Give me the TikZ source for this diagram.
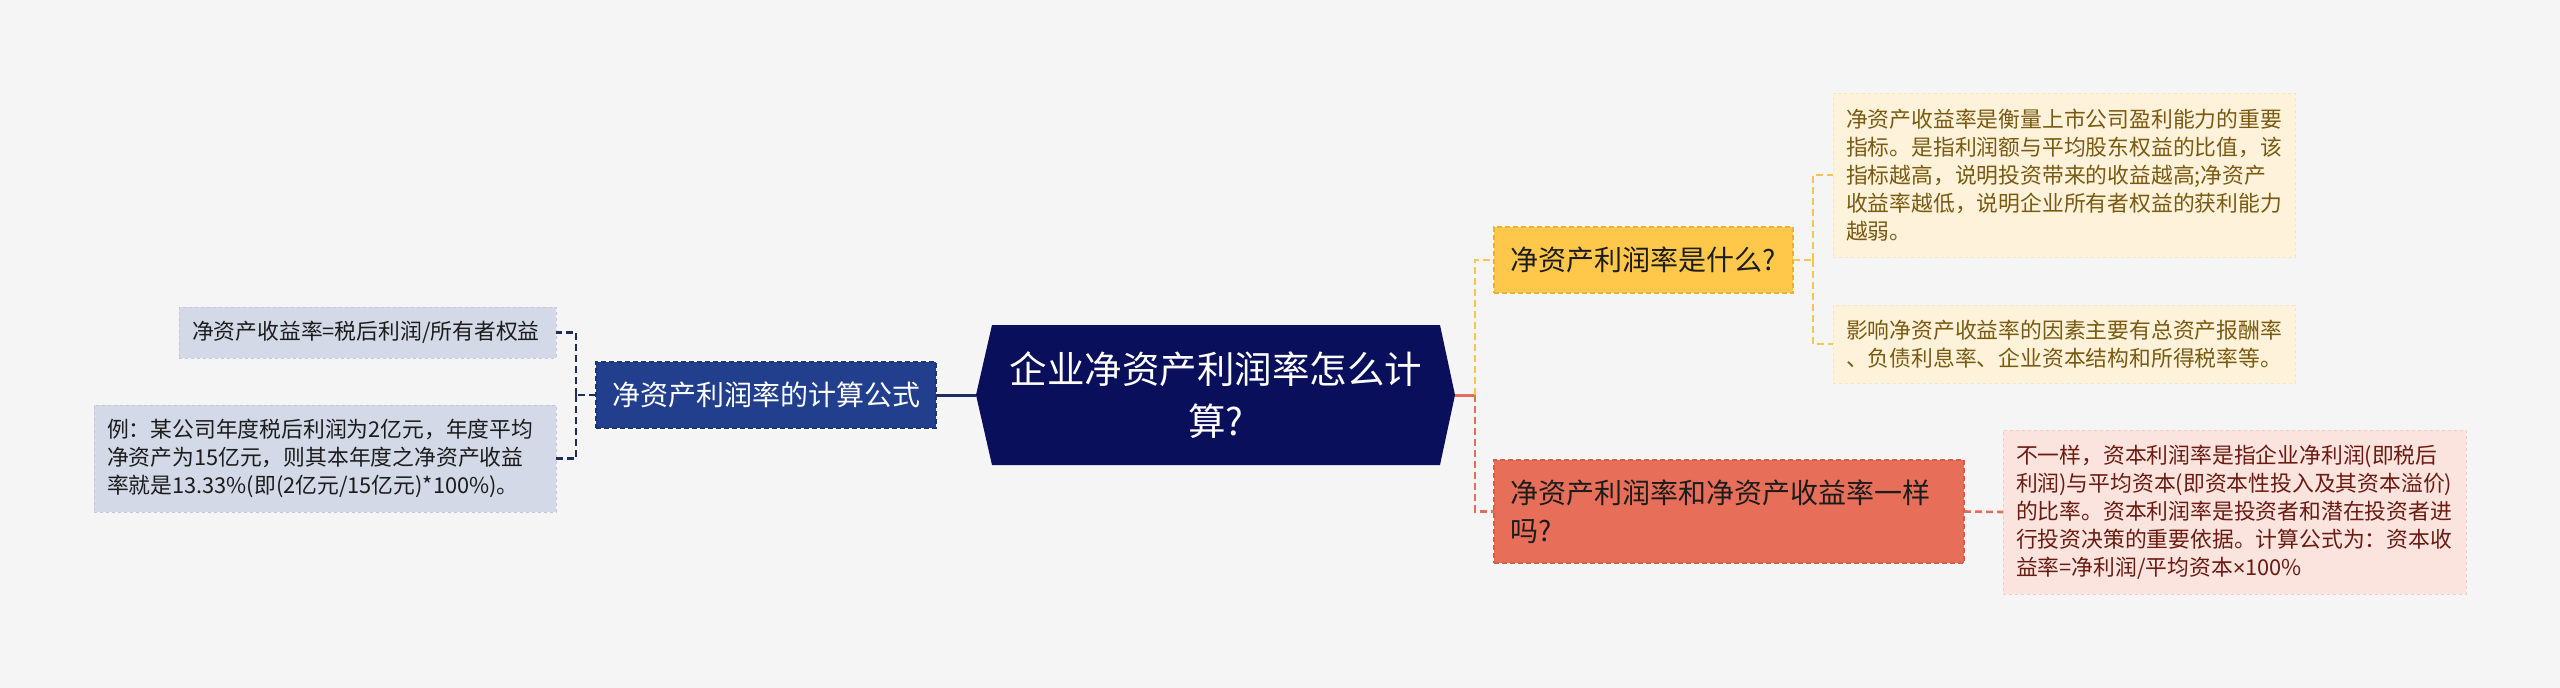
\documentclass[tikz,border=0pt]{standalone}
\usepackage{fontspec}
\setmainfont{Noto Sans CJK SC}
\newfontfamily\latinfont{Liberation Sans}
\usepackage{tikz}
\usetikzlibrary{arrows.meta, positioning, backgrounds}
\usepackage{xcolor}

\definecolor{nen}{HTML}{F5F5F5}
\definecolor{mauGoc}{HTML}{0A0F5C}
\definecolor{xanhNhanh}{HTML}{213F8C}
\definecolor{xanhVien}{HTML}{1A3675}
\definecolor{xanhDuong}{HTML}{1F2D5E}
\definecolor{xamLa}{HTML}{D4D9E8}
\definecolor{xamVien}{HTML}{C2C8DB}
\definecolor{vangNhanh}{HTML}{FFC84A}
\definecolor{vangVien}{HTML}{EDB030}
\definecolor{vangDuong}{HTML}{F6C64F}
\definecolor{vangLa}{HTML}{FEF3DA}
\definecolor{vangLaVien}{HTML}{F6E6C0}
\definecolor{chuVang}{HTML}{7A5A12}
\definecolor{doNhanh}{HTML}{E76F59}
\definecolor{doVien}{HTML}{D45E48}
\definecolor{doDuong}{HTML}{E0705A}
\definecolor{doLa}{HTML}{FBE3DE}
\definecolor{doLaVien}{HTML}{F1CDC6}
\definecolor{chuDo}{HTML}{6B1C12}
\definecolor{chuDen}{HTML}{1C1C1C}

\begin{document}
\begin{tikzpicture}[x=1pt, y=-1pt, thick,
    hop/.style={rectangle, inner ysep=0pt, outer sep=0pt},
    laDuoi/.style={hop, font=\fontsize{21.8}{28}\selectfont, align=left, inner xsep=13pt, dashed, line width=1pt},
    nhanh/.style={hop, font=\fontsize{28}{38}\selectfont, inner xsep=16pt, line width=1.2pt, dash pattern=on 5pt off 3pt},
    noiXanh/.style={draw=xanhDuong, line width=2.4pt, dash pattern=on 7pt off 4pt},
    noiVang/.style={draw=vangDuong, line width=2.6pt, dash pattern=on 7pt off 4pt},
    noiDo/.style={draw=doDuong, line width=2.6pt, dash pattern=on 7pt off 4pt}]

    % Khung và nền
    \useasboundingbox (0,0) rectangle (2560,688);
    \begin{scope}[on background layer]
        \fill[nen] (0,0) rectangle (2560,688);
    \end{scope}

    % Chủ đề trung tâm
    \node[hop, minimum width=448pt, minimum height=140pt, text=white, align=center, font=\fontsize{37.5}{52}\selectfont] (goc) at (1216,395) {企业净资产利润率怎么计\\算?};
    \coordinate (gocT) at ([xshift=-16pt]goc.west);
    \coordinate (gocP) at ([xshift=15pt]goc.east);
    \begin{scope}[on background layer]
        \fill[mauGoc] (gocT) -- (goc.north west) -- (goc.north east) -- (gocP) -- (goc.south east) -- (goc.south west) -- cycle;
    \end{scope}

    % Nhánh trái
    \node[nhanh, fill=xanhNhanh, draw=xanhVien, text=white, minimum width=340pt, minimum height=66pt] (congThuc) at (766,395) {净资产利润率的计算公式};
    \node[laDuoi, fill=xamLa, draw=xamVien, text=chuDen, text width=351pt, minimum height=51pt, anchor=east] (ctA) at (556,332.5) {净资产收益率=税后利润/所有者权益};
    \node[laDuoi, fill=xamLa, draw=xamVien, text=chuDen, text width=436pt, minimum height=107pt, anchor=east] (viDu) at (556,458.5) {例：某公司年度税后利润为2亿元，年度平均\\净资产为15亿元，则其本年度之净资产收益\\率就是13.33\%(即(2亿元/15亿元)*100\%)。};

    % Nhánh phải
    \node[nhanh, fill=vangNhanh, draw=vangVien, text=chuDen, minimum width=299pt, minimum height=66pt, anchor=west] (laGi) at (1494,260) {净资产利润率是什么?};
    \node[nhanh, fill=doNhanh, draw=doVien, text=chuDen, text width=438pt, align=left, minimum height=103pt, anchor=west] (soSanh) at (1494,511.5) {净资产利润率和净资产收益率一样\\吗?};
    \node[laDuoi, fill=vangLa, draw=vangLaVien, text=chuVang, text width=436pt, minimum height=164pt, anchor=west] (dinhNghia) at (1833,175) {净资产收益率是衡量上市公司盈利能力的重要\\指标。是指利润额与平均股东权益的比值，该\\指标越高，说明投资带来的收益越高;净资产\\收益率越低，说明企业所有者权益的获利能力\\越弱。};
    \node[laDuoi, fill=vangLa, draw=vangLaVien, text=chuVang, text width=436pt, minimum height=78pt, anchor=west] (yeuTo) at (1833,344) {影响净资产收益率的因素主要有总资产报酬率\\、负债利息率、企业资本结构和所得税率等。};
    \node[laDuoi, fill=doLa, draw=doLaVien, text=chuDo, text width=437pt, minimum height=164pt, anchor=west] (khacNhau) at (2003,512) {不一样，资本利润率是指企业净利润(即税后\\利润)与平均资本(即资本性投入及其资本溢价)\\的比率。资本利润率是投资者和潜在投资者进\\行投资决策的重要依据。计算公式为：资本收\\益率=净利润/平均资本{\latinfont ×}100\%};

    % Điểm rẽ
    \coordinate (reTrai) at (576,395);
    \coordinate (rePhai) at (1475,395);
    \coordinate (reVang) at (1813,260);

    % Đường nối
    \draw[line width=3pt, xanhDuong] (congThuc.east) -- (gocT);
    \draw[noiXanh] (congThuc.west) -- (reTrai);
    \draw[noiXanh] (reTrai) |- (ctA.east);
    \draw[noiXanh] (reTrai) |- (viDu.east);

    \draw[line width=3pt, doDuong] (gocP) -- (rePhai);
    \draw[noiVang] (rePhai) |- (laGi.west);
    \draw[noiDo] (rePhai) |- (soSanh.west);
    \draw[noiVang] (laGi.east) -- (reVang);
    \draw[noiVang] (reVang) |- (dinhNghia.west);
    \draw[noiVang] (reVang) |- (yeuTo.west);
    \draw[noiDo] (soSanh.east) -- (khacNhau.west);
\end{tikzpicture}
\end{document}
